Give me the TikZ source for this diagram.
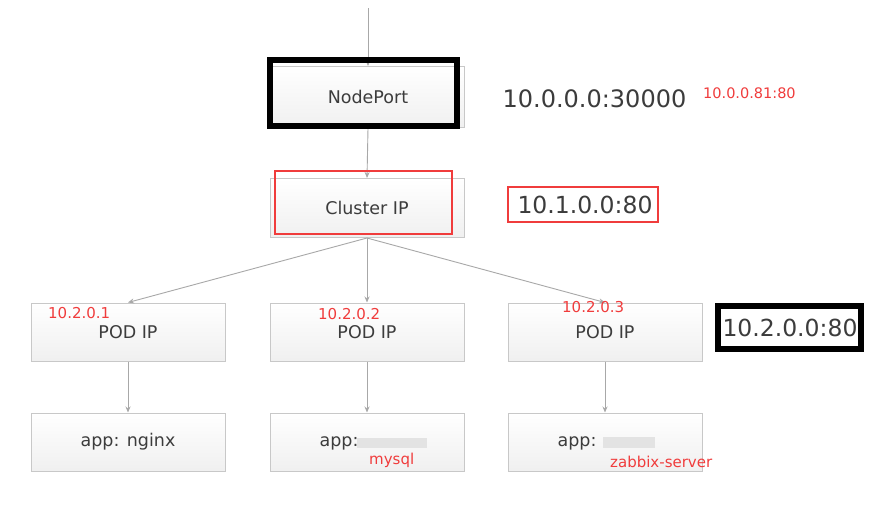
\documentclass[tikz,border=0pt]{standalone}
\usepackage{fontspec}
\setmainfont{DejaVu Sans}
\usetikzlibrary{arrows.meta}
\definecolor{txt}{HTML}{3C3C3C}
\definecolor{brd}{HTML}{C8C8C8}
\definecolor{lnk}{HTML}{A8A8A8}
\definecolor{redl}{HTML}{F03C3C}
\begin{document}
\begin{tikzpicture}[x=1pt,y=-1pt,
 box/.style={draw=brd, line width=1pt, top color=white, bottom color=gray!12, minimum width=194pt, minimum height=58pt, text=txt, font=\fontsize{17.5}{20}\selectfont, inner sep=0pt},
 link/.style={draw=lnk, line width=0.9pt, -{Stealth[length=6pt,width=5pt]}},
 redt/.style={text=redl, font=\fontsize{15}{17}\selectfont, inner sep=0pt, anchor=west},
 big/.style={text=txt, font=\fontsize{23.5}{26}\selectfont, inner sep=0pt},
 blackframe/.style={draw=black, line width=6pt, inner sep=0pt},
 redframe/.style={draw=redl, line width=2pt, inner sep=0pt},
 smudge/.style={fill=gray!22}]
\useasboundingbox[fill=white] (0,0) rectangle (888,507);
\coordinate (top) at (368,8);
% boxes
\node[box, minimum height=61pt, minimum width=192pt] (np) at (368,97) {NodePort};
\node[box, minimum height=59pt] (cip) at (367,208) {Cluster IP};
\node[box] (pod1) at (128,332) {POD IP};
\node[box] (pod2) at (367,332) {POD IP};
\node[box] (pod3) at (605,332) {POD IP};
\node[box] (app1) at (128,442) {app: nginx};
\node[box] (app2) at (367,442) {app: \phantom{nginx}};
\node[box] (app3) at (605,442) {app: \phantom{nginx}};
% smudges
\fill[smudge] (357,438) rectangle (427,448);
\fill[smudge] (603,437) rectangle (655,448);
% connectors
\draw[link] (top) -- (np.north);
\draw[link] (np.south) -- (cip.north);
\draw[link] (cip.south) -- (pod1.north);
\draw[link] (cip.south) -- (pod2.north);
\draw[link] (cip.south) -- (pod3.north);
\draw[link] (pod1.south) -- (app1.north);
\draw[link] (pod2.south) -- (app2.north);
\draw[link] (pod3.south) -- (app3.north);
% frames
\node[blackframe, minimum width=187pt, minimum height=66pt] (npf) at (363.5,93) {};
\node[redframe, minimum width=177pt, minimum height=63pt] (cipf) at (363.5,202.5) {};
% address labels
\node[text=txt, font=\fontsize{24}{28}\selectfont, inner sep=0pt] (np-addr) at (594.5,99) {10.0.0.0:30000};
\node[redt, font=\fontsize{14.5}{17}\selectfont] (np-red) at (703,93) {10.0.0.81:80};
\node[redframe, minimum width=150pt, minimum height=35pt] (cip-frame) at (583,204.5) {};
\node[big] (cip-addr) at (585,205) {10.1.0.0:80};
\node[blackframe, minimum width=143pt, minimum height=43pt] (pod-frame) at (789.5,327.5) {};
\node[big] (pod-addr) at (790,328) {10.2.0.0:80};
\node[redt] (ip1) at (48,313) {10.2.0.1};
\node[redt] (ip2) at (318,314) {10.2.0.2};
\node[redt] (ip3) at (562,307) {10.2.0.3};
\node[redt] (mysql) at (369,460) {mysql};
\node[redt] (zabbix) at (610,462) {zabbix-server};
\end{tikzpicture}
\end{document}
